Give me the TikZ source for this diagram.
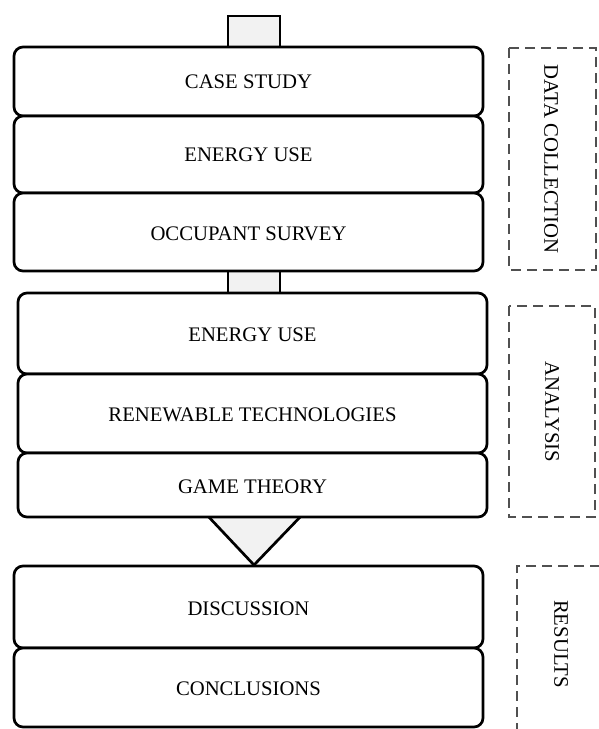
\documentclass[tikz,border=0pt]{standalone}
\usepackage{fontspec}
\setmainfont{Liberation Serif}
\usetikzlibrary{calc}
\definecolor{tabfill}{HTML}{F2F2F2}
\definecolor{dashgray}{HTML}{505050}
\tikzset{
  stepbox/.style={draw=black, line width=2.7pt, rounded corners=9pt, fill=white,
    minimum width=469pt, inner sep=0pt, font=\fontsize{20.7}{23}\selectfont,
    text height=16.7pt, text depth=0pt},
  nodrop/.style={text height=14.2pt},
  tabshape/.style={draw=black, line width=2.7pt, fill=tabfill},
  phasebox/.style={draw=dashgray, line width=2.2pt, dash pattern=on 10pt off 6pt},
  phaselabel/.style={rotate=-90, font=\fontsize{20.7}{23}\selectfont, inner sep=0pt},
}
\begin{document}
\begin{tikzpicture}[x=1pt, y=-1pt]
\useasboundingbox (0,0) rectangle (598,729);
% tabs / connectors (drawn first)
\draw[tabshape] (228,16) rectangle (280,50);
\draw[tabshape] (228,268) rectangle (280,296);
\draw[tabshape, line join=miter] (206,514) -- (303,514) -- (254,565) -- cycle;
% data collection
\node[stepbox, nodrop, minimum height=69pt] (cs) at (248.5,81.5) {CASE STUDY};
\node[stepbox, nodrop, minimum height=77pt] (eu1) at (248.5,154.5) {ENERGY USE};
\node[stepbox, minimum height=78pt] (os) at (248.5,232) {OCCUPANT SURVEY};
% analysis
\node[stepbox, minimum height=81pt] (eu2) at (252.5,333.5) {ENERGY USE};
\node[stepbox, minimum height=79pt] (rt) at (252.5,413.5) {RENEWABLE TECHNOLOGIES};
\node[stepbox, minimum height=64pt] (gt) at (252.5,485) {GAME THEORY};
% results
\node[stepbox, minimum height=82pt] (dis) at (248.5,607) {DISCUSSION};
\node[stepbox, minimum height=79pt] (con) at (248.5,687.5) {CONCLUSIONS};
% phase boxes
\draw[phasebox] (509,48) rectangle (596,270);
\node[phaselabel] (pdc) at (551,159) {DATA COLLECTION};
\draw[phasebox] (509,306) rectangle (595,517);
\node[phaselabel] (pan) at (552,412) {ANALYSIS};
\draw[phasebox] (600,566) -- (517,566) -- (517,731);
\node[phaselabel] (pre) at (561,644) {RESULTS};
\end{tikzpicture}
\end{document}
